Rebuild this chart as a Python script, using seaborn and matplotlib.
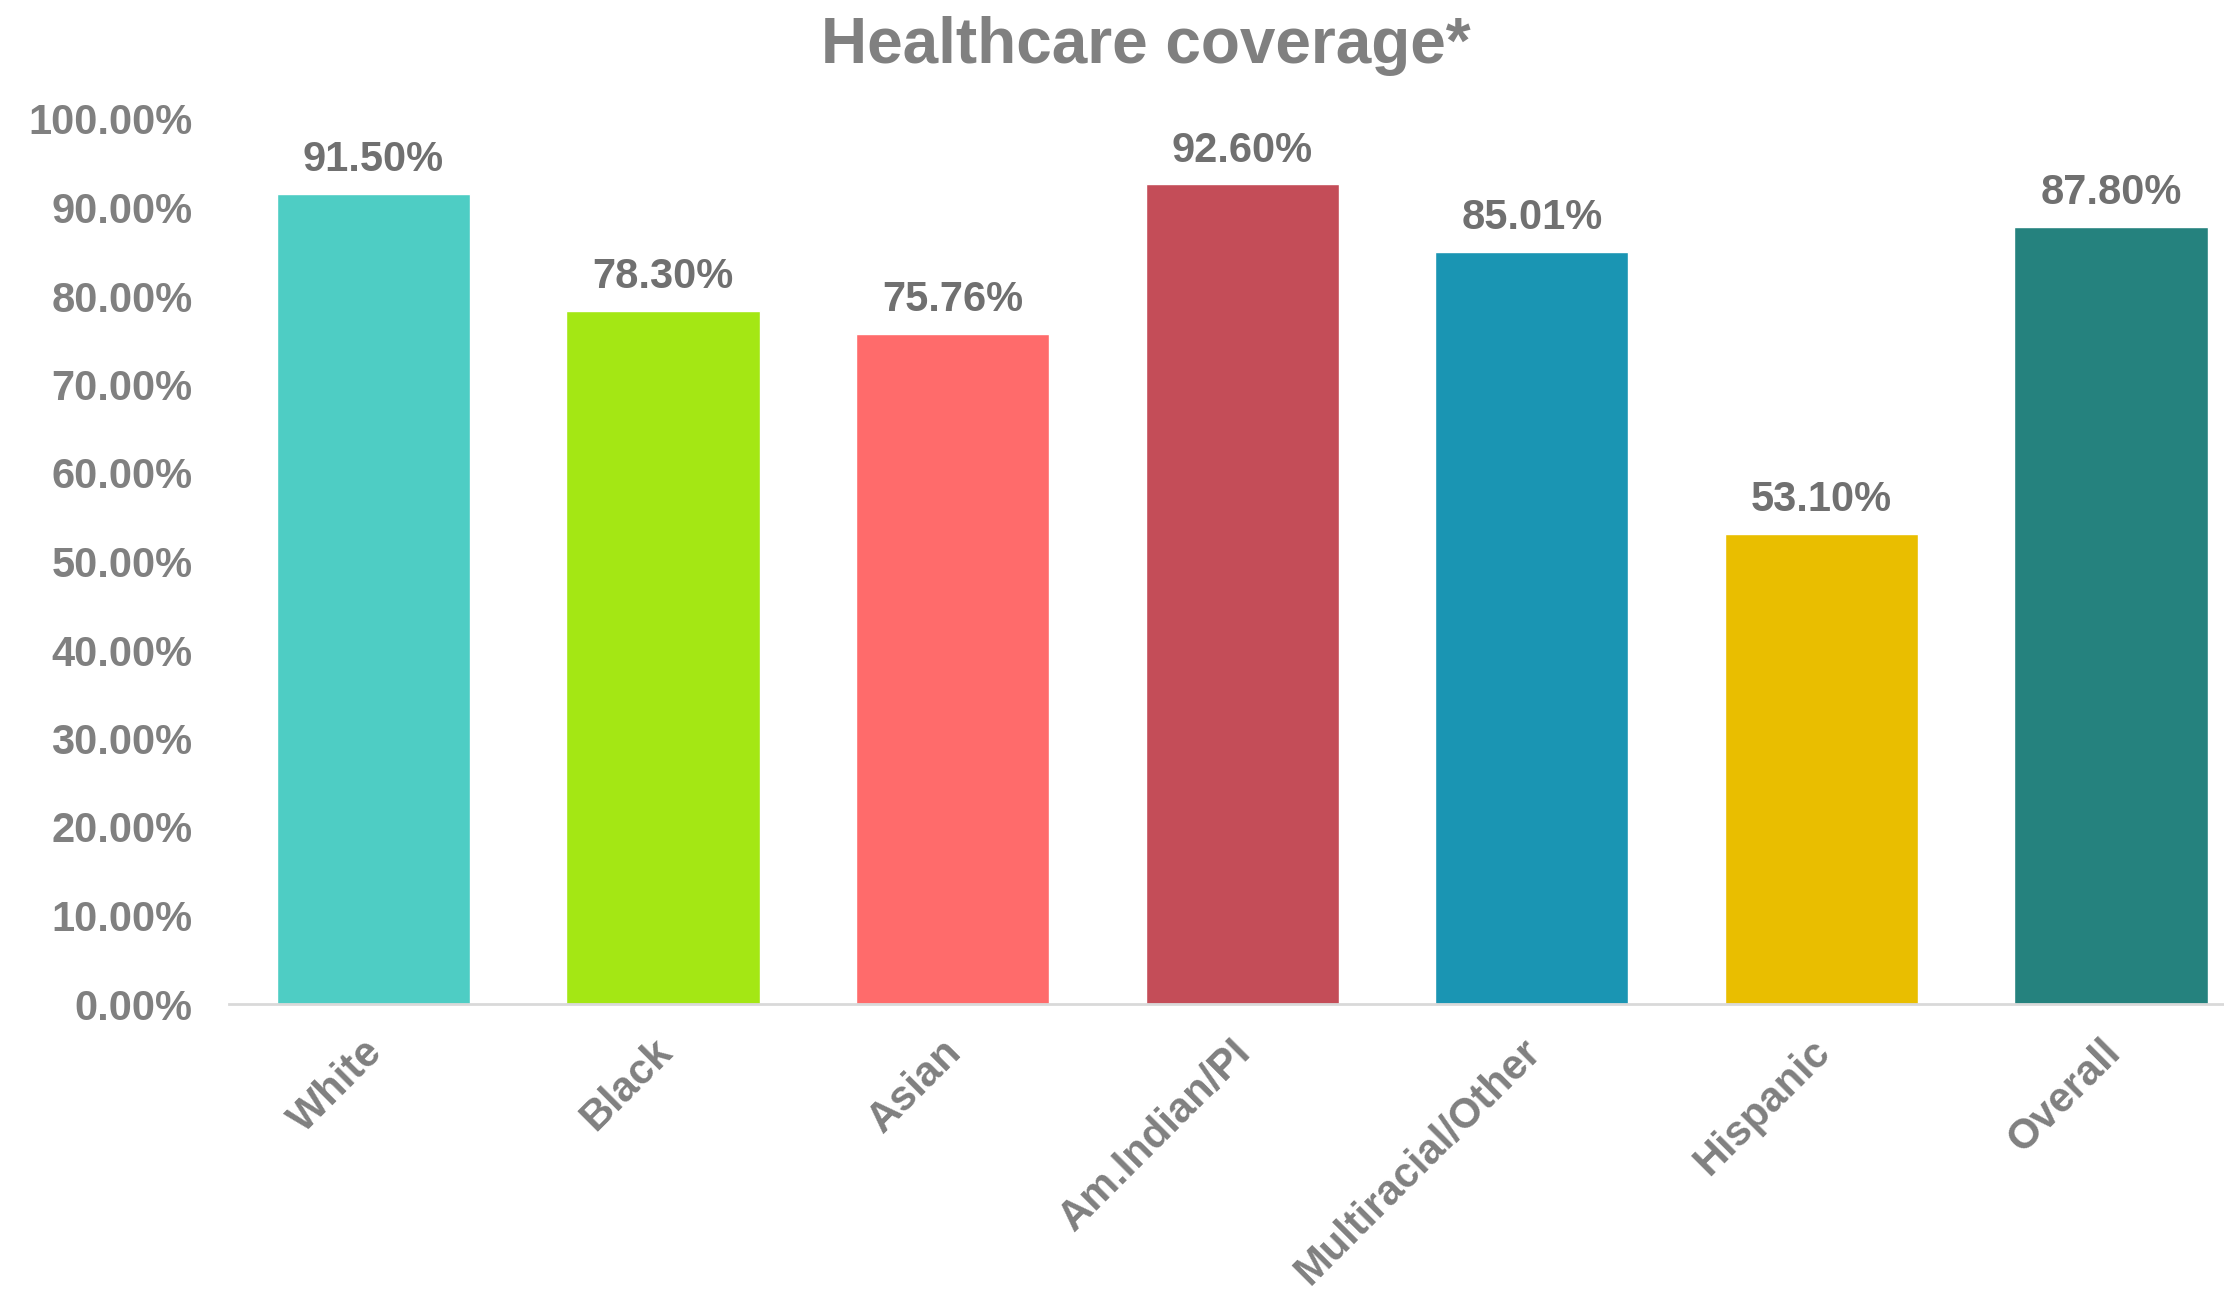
import matplotlib
matplotlib.use("Agg")
import matplotlib.pyplot as plt
import matplotlib.ticker as mtick
import matplotlib.transforms as mtransforms
import pandas as pd
import seaborn as sns

# Data
groups = ["White", "Black", "Asian", "Am.Indian/PI", "Multiracial/Other", "Hispanic", "Overall"]
coverage = [91.50, 78.30, 75.76, 92.60, 85.01, 53.10, 87.80]
colors = ["#4ECDC4", "#A4E714", "#FF6B6B", "#C44D58", "#1A95B3", "#E9BE00", "#25827E"]

df = pd.DataFrame({"Group": groups, "Coverage": coverage})

sns.set_theme(style="white")
plt.rcParams["font.family"] = ["Liberation Sans", "DejaVu Sans"]

fig = plt.figure(figsize=(22.24, 12.96), dpi=100)
ax = fig.add_axes([228.5 / 2224, 292 / 1296, (2224 - 228.5) / 2224, 885 / 1296])

sns.barplot(
    data=df,
    x="Group",
    y="Coverage",
    hue="Group",
    palette=colors,
    saturation=1,
    width=0.667,
    legend=False,
    ax=ax,
)

ax.set_ylim(0, 100)
ax.set_xlim(-0.5, 6.39)
ax.yaxis.set_major_locator(mtick.MultipleLocator(10))
ax.yaxis.set_major_formatter(mtick.PercentFormatter(xmax=100, decimals=2))

# Value labels
for container in ax.containers:
    ax.bar_label(
        container,
        labels=[f"{v:.2f}%" for v in container.datavalues],
        padding=10,
        fontsize=30,
        fontweight="bold",
        color="#707070",
        clip_on=False,
    )

ax.set_xlabel("")
ax.set_ylabel("")

for side in ["top", "right", "left"]:
    ax.spines[side].set_visible(False)
ax.spines["bottom"].set_color("#D9D9D9")
ax.spines["bottom"].set_linewidth(2)

ax.tick_params(axis="y", length=0, pad=26, labelsize=30, labelcolor="#808080")
ax.tick_params(axis="x", length=0, pad=20, labelsize=30, labelcolor="#808080")
for lbl in ax.get_yticklabels():
    lbl.set_fontweight("bold")
shift = mtransforms.ScaledTranslation(-8 / 72, 0, fig.dpi_scale_trans)
for lbl in ax.get_xticklabels():
    lbl.set_fontweight("bold")
    lbl.set_rotation(45)
    lbl.set_ha("right")
    lbl.set_rotation_mode("anchor")
    lbl.set_transform(lbl.get_transform() + shift)

fig.text(1146 / 2224, 1 - 46 / 1296, "Healthcare coverage*", ha="center", va="center",
         fontsize=46, fontweight="bold", color="#808080")

fig.savefig("out.png", dpi=100)
